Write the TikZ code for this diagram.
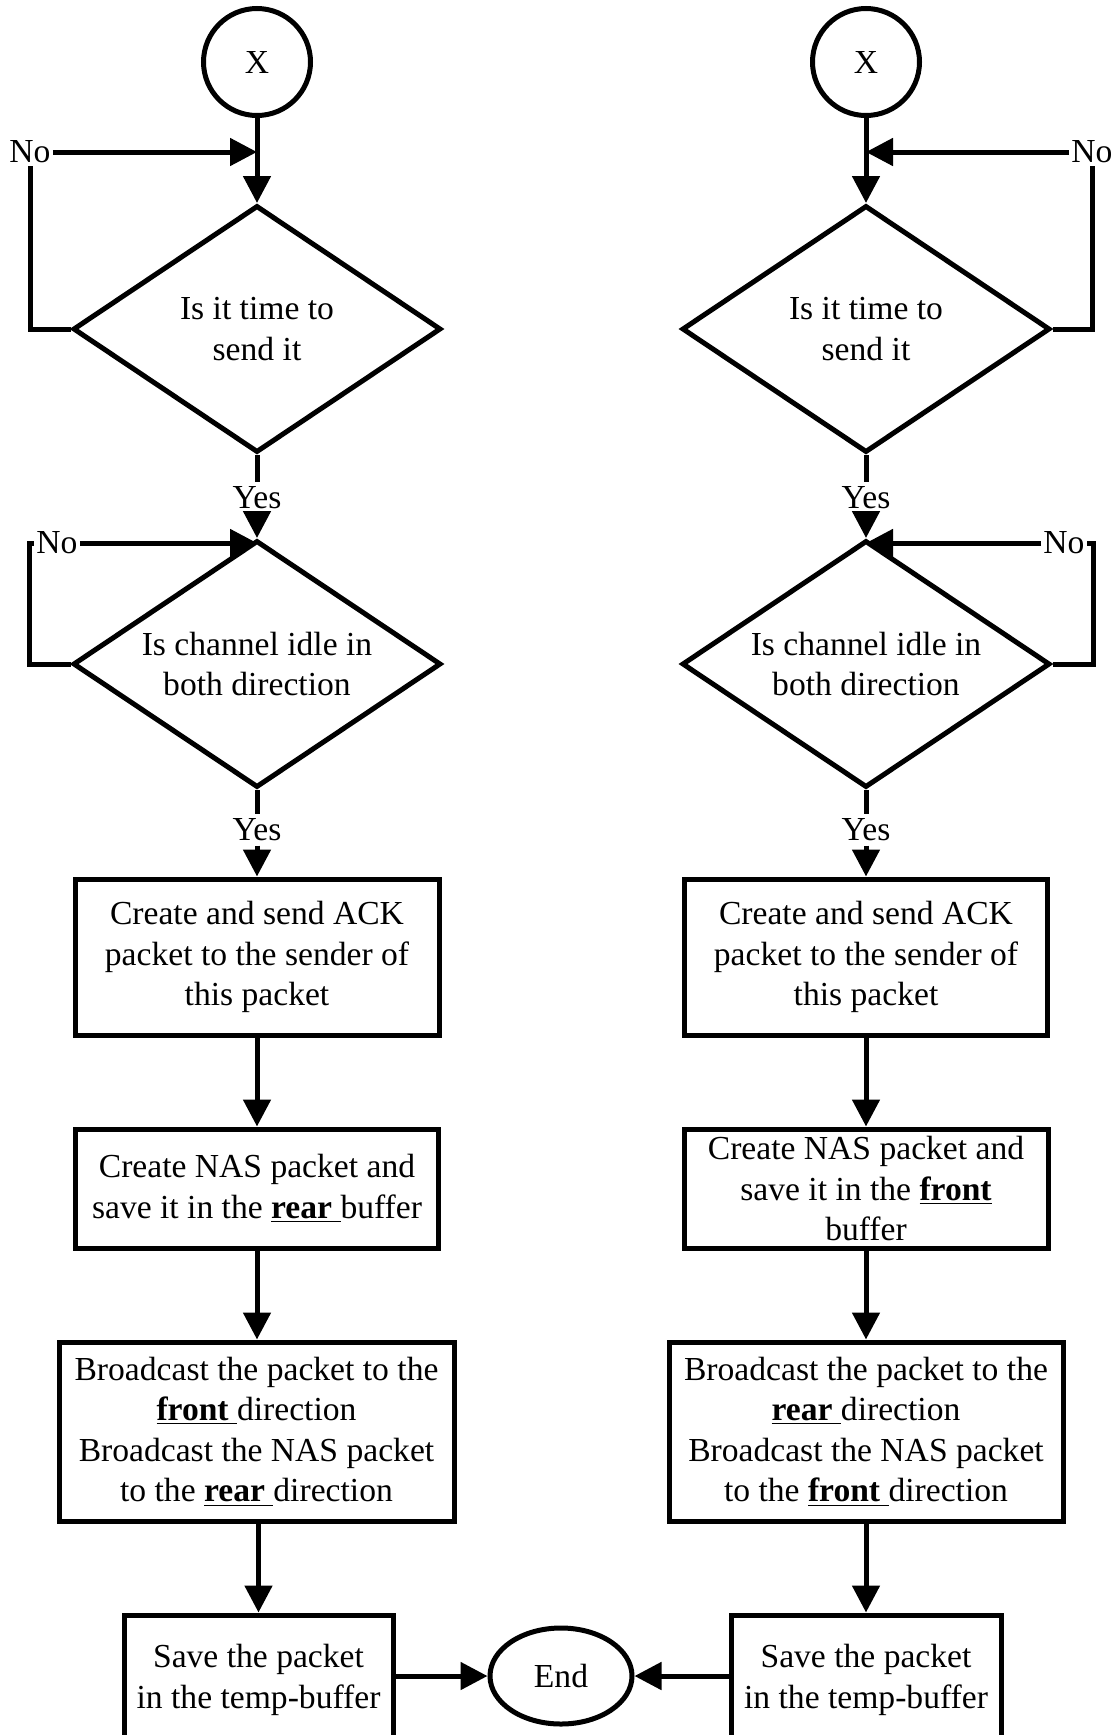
\documentclass[tikz,border=0pt]{standalone}
\usepackage{fontspec}
\setmainfont{Liberation Serif}
\usetikzlibrary{shapes.geometric,arrows.meta}
\newcommand\ulb[1]{\underline{\textbf{#1}}}

\begin{document}
\begin{tikzpicture}[x=0.5pt,y=-0.5pt,
  every node/.style={font=\fontsize{16.8pt}{20.3pt}\selectfont,text=black},
  flow/.style={line width=2.5pt},
  arr/.style={flow,-{Triangle[length=13.5pt,width=13.5pt]}},
  term/.style={draw,line width=2.5pt,circle,minimum size=53.5pt,inner sep=0pt},
  endterm/.style={draw,line width=2.5pt,ellipse,minimum width=71pt,minimum height=48pt,inner sep=0pt},
  decision/.style={draw,line width=2.5pt,diamond,shape aspect=1.5,align=center,
    minimum width=184pt,minimum height=123.5pt,inner sep=0pt},
  process/.style={draw,line width=2.5pt,rectangle,align=center,inner sep=0pt},
  lab/.style={inner sep=2pt},
]
\fill[white] (0,0) rectangle (1118,1735);
\useasboundingbox (0,0) rectangle (1118,1735);

% ---------- left branch ----------
\node[term] (cxL) at (257,62) {X};
\node[decision] (dTL) at (257,329) {Is it time to\\send it};
\node[lab] (yL1) at (257,498) {Yes};
\node[decision] (dCL) at (257,664) {Is channel idle in\\both direction};
\node[lab] (yL2) at (257,830) {Yes};
\node[process,minimum width=182pt,minimum height=78pt] (bAckL) at (257,957)
  {Create and send ACK\\packet to the sender of\\this packet};
\node[process,minimum width=181.5pt,minimum height=59.5pt] (bNasL) at (257,1188.5)
  {Create NAS packet and\\save it in the \ulb{rear }buffer};
\node[process,minimum width=197.5pt,minimum height=89.5pt] (bBcL) at (256.5,1431.5)
  {Broadcast the packet to the\\\ulb{front }direction\\Broadcast the NAS packet\\to the \ulb{rear }direction};
\node[process,minimum width=134.5pt,minimum height=65pt] (bSaveL) at (258.5,1680)
  {Save the packet\\in the temp-buffer};
\node[lab,inner sep=1pt] (noL1) at (30,152) {No};
\node[lab,inner sep=1pt] (noL2) at (57,543) {No};

% ---------- right branch ----------
\node[term] (cxR) at (866,62) {X};
\node[decision] (dTR) at (866,329) {Is it time to\\send it};
\node[lab] (yR1) at (866,498) {Yes};
\node[decision] (dCR) at (866,664) {Is channel idle in\\both direction};
\node[lab] (yR2) at (866,830) {Yes};
\node[process,minimum width=181.5pt,minimum height=78pt] (bAckR) at (866,957)
  {Create and send ACK\\packet to the sender of\\this packet};
\node[process,minimum width=182pt,minimum height=59.5pt] (bNasR) at (866,1188.5)
  {Create NAS packet and\\save it in the \ulb{front}\\buffer};
\node[process,minimum width=197pt,minimum height=89.5pt] (bBcR) at (866,1431.5)
  {Broadcast the packet to the\\\ulb{rear }direction\\Broadcast the NAS packet\\to the \ulb{front }direction};
\node[process,minimum width=135pt,minimum height=65pt] (bSaveR) at (866,1680)
  {Save the packet\\in the temp-buffer};
\node[lab,inner sep=1pt] (noR1) at (1092,152) {No};
\node[lab,inner sep=1pt] (noR2) at (1064,543) {No};

% ---------- common end ----------
\node[endterm] (endN) at (561,1676) {End};

% ---------- connectors, left ----------
\draw[arr] (cxL) -- (dTL.north);
\draw[flow] (dTL.west) -| (noL1.south);
\draw[arr] (noL1.east) -- (noL1.east -| cxL.south);
\draw[flow] (dTL.south) -- (yL1.north);
\draw[arr] (yL1.south) -- (dCL.north);
\coordinate (lpL2) at (29,664);
\draw[flow] (dCL.west) -- (lpL2) |- (noL2.west);
\draw[arr] (noL2.east) -- (noL2.east -| dCL.north);
\draw[flow] (dCL.south) -- (yL2.north);
\draw[arr] (yL2.south) -- (bAckL.north);
\draw[arr] (bAckL.south) -- (bNasL.north);
\draw[arr] (bNasL.south) -- (bBcL.north -| bNasL.south);
\draw[arr] (bBcL.south -| bSaveL.north) -- (bSaveL.north);
\draw[arr] (bSaveL.east |- endN.west) -- (endN.west);

% ---------- connectors, right ----------
\draw[arr] (cxR) -- (dTR.north);
\draw[flow] (dTR.east) -| (noR1.south);
\draw[arr] (noR1.west) -- (noR1.west -| cxR.south);
\draw[flow] (dTR.south) -- (yR1.north);
\draw[arr] (yR1.south) -- (dCR.north);
\coordinate (lpR2) at (1093,664);
\draw[flow] (dCR.east) -- (lpR2) |- (noR2.east);
\draw[arr] (noR2.west) -- (noR2.west -| dCR.north);
\draw[flow] (dCR.south) -- (yR2.north);
\draw[arr] (yR2.south) -- (bAckR.north);
\draw[arr] (bAckR.south) -- (bNasR.north);
\draw[arr] (bNasR.south) -- (bBcR.north);
\draw[arr] (bBcR.south) -- (bSaveR.north);
\draw[arr] (bSaveR.west |- endN.east) -- (endN.east);
\end{tikzpicture}
\end{document}
